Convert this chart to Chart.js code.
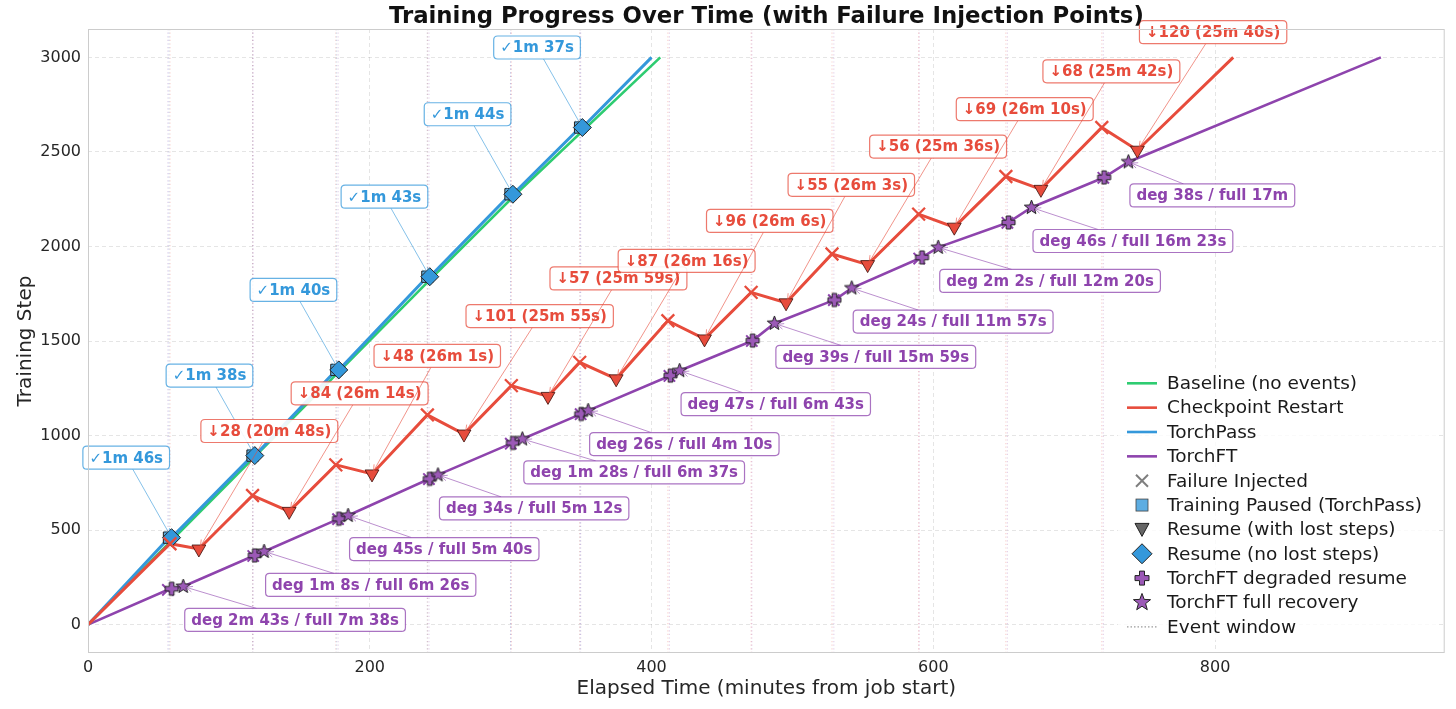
<!DOCTYPE html>
<html><head><meta charset="utf-8">
<script src="https://cdn.jsdelivr.net/npm/chart.js@4.4.1/dist/chart.umd.min.js"></script>
<style>html,body{margin:0;padding:0;background:#fff;}#wrap{width:1456px;height:709px;position:relative;}</style>
</head><body><div id="wrap"><canvas id="c"></canvas></div>
<script>
// ---------------- DATA ----------------
const titleText = 'Training Progress Over Time (with Failure Injection Points)';
const xTitle = 'Elapsed Time (minutes from job start)';
const yTitle = 'Training Step';
const xTicks = [0, 200, 400, 600, 800];
const yTicks = [0, 500, 1000, 1500, 2000, 2500, 3000];

const baselineT = [0, 120, 243.5, 303.6, 406.2];
const baselineS = [0, 900, 1830, 2276, 3000];

const ckptFailT = [58.2, 116.8, 175.9, 240.9, 300.5, 349.0, 411.6, 470.7, 528.1, 589.6, 651.5, 719.6];
const ckptFailS = [428, 683, 845, 1109, 1264, 1387, 1607, 1757, 1960, 2171, 2370, 2629];
const ckptResumeT = [78.7, 142.8, 201.6, 266.9, 326.5, 374.9, 437.6, 495.5, 553.4, 614.9, 676.4, 744.9];
const ckptResumeS = [400, 599, 797, 1008, 1207, 1300, 1511, 1702, 1904, 2102, 2302, 2509];
const ckptEndT = 812.9, ckptEndS = 3000;
const ckptLabels = ['↓28 (20m 48s)', '↓84 (26m 14s)', '↓48 (26m 1s)', '↓101 (25m 55s)', '↓57 (25m 59s)', '↓87 (26m 16s)',
  '↓96 (26m 6s)', '↓55 (26m 3s)', '↓56 (25m 36s)', '↓69 (26m 10s)', '↓68 (25m 42s)', '↓120 (25m 40s)'];

const passPauseT = [57.5, 116.8, 176.3, 240.9, 299.9, 349.3];
const passResumeT = [59.3, 118.4, 178.0, 242.6, 301.6, 350.9];
const passS = [460, 894, 1347, 1840, 2276, 2629];
const passEndT = 400, passEndS = 3000;
const passLabels = ['✓1m 46s', '✓1m 38s', '✓1m 40s', '✓1m 43s', '✓1m 44s', '✓1m 37s'];

const ftFailT = [56.7, 117.3, 177.5, 242.0, 300.1, 349.7, 412.7, 471.2, 529.4, 590.0, 652.6, 720.7];
const ftFailS = [184, 363, 558, 770, 957, 1113, 1315, 1500, 1716, 1936, 2125, 2363];
const ftDegT = [59.4, 118.4, 178.2, 242.6, 301.6, 350.1, 413.5, 471.8, 529.8, 592.0, 653.4, 721.3];
const ftDegS = [190, 366, 560, 771, 961, 1114, 1317, 1502, 1717, 1942, 2127, 2365];
const ftFullT = [67.6, 125.0, 184.6, 248.4, 308.3, 355.0, 419.9, 487.2, 542.1, 603.5, 669.7, 738.5];
const ftFullS = [202, 387, 577, 792, 982, 1132, 1343, 1593, 1780, 1995, 2206, 2447];
const ftEndT = 917.7, ftEndS = 3000;
const ftLabels = ['deg 2m 43s / full 7m 38s', 'deg 1m 8s / full 6m 26s', 'deg 45s / full 5m 40s', 'deg 34s / full 5m 12s',
  'deg 1m 28s / full 6m 37s', 'deg 26s / full 4m 10s', 'deg 47s / full 6m 43s', 'deg 39s / full 15m 59s',
  'deg 24s / full 11m 57s', 'deg 2m 2s / full 12m 20s', 'deg 46s / full 16m 23s', 'deg 38s / full 17m'];

const legendLabels = ['Baseline (no events)', 'Checkpoint Restart', 'TorchPass', 'TorchFT', 'Failure Injected',
  'Training Paused (TorchPass)', 'Resume (with lost steps)', 'Resume (no lost steps)', 'TorchFT degraded resume',
  'TorchFT full recovery', 'Event window'];

// ---------------- STYLE ----------------
const FONT = '"DejaVu Sans", "Liberation Sans", sans-serif';
const C = { base: '#2ecc71', ckpt: '#e74c3c', pass: '#3498db', ft: '#8e44ad', ftFill: '#9b59b6', edge: '#222222' };
function hexA(h, a) { const n = parseInt(h.slice(1), 16); return `rgba(${n >> 16},${(n >> 8) & 255},${n & 255},${a})`; }

function starPath(g, cx, cy, R) {
  const r = R * 0.42; g.beginPath();
  for (let i = 0; i < 10; i++) { const a = -Math.PI / 2 + i * Math.PI / 5, rr = i % 2 ? r : R; g.lineTo(cx + rr * Math.cos(a), cy + rr * Math.sin(a)); }
  g.closePath();
}
function plusPath(g, cx, cy, h, w) {
  g.beginPath();
  g.moveTo(cx - w, cy - h); g.lineTo(cx + w, cy - h); g.lineTo(cx + w, cy - w); g.lineTo(cx + h, cy - w);
  g.lineTo(cx + h, cy + w); g.lineTo(cx + w, cy + w); g.lineTo(cx + w, cy + h); g.lineTo(cx - w, cy + h);
  g.lineTo(cx - w, cy + w); g.lineTo(cx - h, cy + w); g.lineTo(cx - h, cy - w); g.lineTo(cx - w, cy - w); g.closePath();
}
function makeStar(R, fill, stroke) {
  const s = Math.ceil(2 * R + 4), c = document.createElement('canvas'); c.width = c.height = s;
  const g = c.getContext('2d'); starPath(g, s / 2, s / 2, R);
  g.fillStyle = fill; g.fill(); g.lineWidth = 1; g.strokeStyle = stroke; g.stroke(); return c;
}
function makePlus(h, w, fill, stroke) {
  const s = Math.ceil(2 * h + 4), c = document.createElement('canvas'); c.width = c.height = s;
  const g = c.getContext('2d'); plusPath(g, s / 2, s / 2, h, w);
  g.fillStyle = fill; g.fill(); g.lineWidth = 1; g.strokeStyle = stroke; g.stroke(); return c;
}
const starImg = makeStar(7.5, C.ftFill, C.edge);
const plusImg = makePlus(6.5, 2.3, C.ftFill, C.edge);

// ---------------- BUILD SERIES ----------------
const pts = (xs, ys) => xs.map((x, i) => ({ x, y: ys[i] }));
const baselineLine = pts(baselineT, baselineS);
const ckptLine = [{ x: 0, y: 0 }];
ckptFailT.forEach((t, i) => { ckptLine.push({ x: t, y: ckptFailS[i] }, { x: ckptResumeT[i], y: ckptResumeS[i] }); });
ckptLine.push({ x: ckptEndT, y: ckptEndS });
const passLine = [{ x: 0, y: 0 }];
passPauseT.forEach((t, i) => { passLine.push({ x: t, y: passS[i] }, { x: passResumeT[i], y: passS[i] }); });
passLine.push({ x: passEndT, y: passEndS });
const ftLine = [{ x: 0, y: 0 }];
ftFailT.forEach((t, i) => { ftLine.push({ x: t, y: ftFailS[i] }, { x: ftDegT[i], y: ftDegS[i] }, { x: ftFullT[i], y: ftFullS[i] }); });
ftLine.push({ x: ftEndT, y: ftEndS });

const lineDs = (label, data, color, w, order) => ({ label, data, borderColor: color, backgroundColor: color, borderWidth: w, pointRadius: 0, tension: 0, fill: false, order });
const markDs = (label, data, o) => Object.assign({ label, data, showLine: false, order: 0 }, o);

const datasets = [
  markDs('ckptFail', pts(ckptFailT, ckptFailS), { pointStyle: 'crossRot', pointRadius: 9, borderColor: C.ckpt, pointBorderWidth: 2.3, order: 1 }),
  markDs('ckptResume', pts(ckptResumeT, ckptResumeS), { pointStyle: 'triangle', pointRotation: 180, pointRadius: 8, pointBackgroundColor: C.ckpt, pointBorderColor: 'rgba(60,15,10,0.8)', pointBorderWidth: 1, order: 0 }),
  markDs('passPause', pts(passPauseT, passS), { pointStyle: 'rect', pointRadius: 8, pointBackgroundColor: '#5dade2', pointBorderColor: C.edge, pointBorderWidth: 1, order: 2 }),
  markDs('passResume', pts(passResumeT, passS), { pointStyle: 'rectRot', pointRadius: 9, pointBackgroundColor: C.pass, pointBorderColor: C.edge, pointBorderWidth: 1, order: 1 }),
  markDs('ftFail', pts(ftFailT, ftFailS), { pointStyle: 'crossRot', pointRadius: 8, borderColor: C.ft, pointBorderWidth: 2, order: 2 }),
  markDs('ftDeg', pts(ftDegT, ftDegS), { pointStyle: plusImg, pointRadius: 7, order: 1 }),
  markDs('ftFull', pts(ftFullT, ftFullS), { pointStyle: starImg, pointRadius: 7, order: 0 }),
  lineDs('Checkpoint Restart', ckptLine, C.ckpt, 3, 5),
  lineDs('TorchPass', passLine, C.pass, 3, 5),
  lineDs('Baseline (no events)', baselineLine, C.base, 2.6, 6),
  lineDs('TorchFT', ftLine, C.ft, 2.6, 6)
];

// ---------------- DRAWING HELPERS ----------------
function roundRect(ctx, x, y, w, h, r) {
  ctx.beginPath(); ctx.moveTo(x + r, y); ctx.lineTo(x + w - r, y); ctx.quadraticCurveTo(x + w, y, x + w, y + r);
  ctx.lineTo(x + w, y + h - r); ctx.quadraticCurveTo(x + w, y + h, x + w - r, y + h); ctx.lineTo(x + r, y + h);
  ctx.quadraticCurveTo(x, y + h, x, y + h - r); ctx.lineTo(x, y + r); ctx.quadraticCurveTo(x, y, x + r, y); ctx.closePath();
}
function drawLabel(ctx, text, tx, ty, anchor, dx, dy, color) {
  ctx.font = 'bold 15px ' + FONT;
  const tw = ctx.measureText(text).width, w = tw + 13, h = 23;
  const left = anchor === 'right' ? tx + dx - w : tx + dx;
  const cy = ty + dy, top = cy - h / 2, cx = left + w / 2;
  const vx = tx - cx, vy = ty - cy, L = Math.hypot(vx, vy);
  const t0 = Math.min((w / 2) / Math.abs(vx || 1e-6), (h / 2) / Math.abs(vy || 1e-6));
  const sx = cx + vx * t0, sy = cy + vy * t0;
  const ux = vx / L, uy = vy / L, ex = tx - ux * 3, ey = ty - uy * 3;
  ctx.save();
  ctx.strokeStyle = hexA(color, 0.6); ctx.lineWidth = 1;
  ctx.beginPath(); ctx.moveTo(sx, sy); ctx.lineTo(ex, ey); ctx.stroke();
  const ang = Math.atan2(uy, ux), hl = 7, ha = 0.42;
  ctx.beginPath();
  ctx.moveTo(ex - hl * Math.cos(ang - ha), ey - hl * Math.sin(ang - ha)); ctx.lineTo(ex, ey);
  ctx.lineTo(ex - hl * Math.cos(ang + ha), ey - hl * Math.sin(ang + ha)); ctx.stroke();
  roundRect(ctx, left, top, w, h, 4);
  ctx.fillStyle = 'rgba(255,255,255,0.9)'; ctx.fill();
  ctx.strokeStyle = hexA(color, 0.75); ctx.lineWidth = 1.2; ctx.stroke();
  ctx.fillStyle = color; ctx.textAlign = 'left'; ctx.textBaseline = 'middle';
  ctx.fillText(text, left + 6.5, cy + 1);
  ctx.restore();
}

const custom = {
  id: 'custom',
  beforeDatasetsDraw(chart) {
    const { ctx, chartArea: a, scales: { x } } = chart;
    ctx.save();
    ctx.lineWidth = 1.1; ctx.setLineDash([1.2, 2.4]);
    [[passPauseT, C.pass], [ckptFailT, C.ckpt], [ftFailT, C.ft]].forEach(([ts, col]) => {
      ctx.strokeStyle = hexA(col, 0.26);
      ts.forEach(t => { const px = x.getPixelForValue(t); ctx.beginPath(); ctx.moveTo(px, a.top); ctx.lineTo(px, a.bottom); ctx.stroke(); });
    });
    ctx.restore();
  },
  afterDatasetsDraw(chart) {
    const { ctx, scales: { x, y } } = chart;
    passLabels.forEach((t, i) => drawLabel(ctx, t, x.getPixelForValue(passResumeT[i]), y.getPixelForValue(passS[i]), 'right', -2, -80, C.pass));
    ckptLabels.forEach((t, i) => drawLabel(ctx, t, x.getPixelForValue(ckptResumeT[i]), y.getPixelForValue(ckptResumeS[i]), 'left', 2, -118, C.ckpt));
    ftLabels.forEach((t, i) => drawLabel(ctx, t, x.getPixelForValue(ftFullT[i]), y.getPixelForValue(ftFullS[i]), 'left', 1.5, 33.5, C.ft));
  },
  afterDraw(chart) {
    const { ctx, chartArea: a } = chart;
    ctx.save();
    ctx.strokeStyle = '#cccccc'; ctx.lineWidth = 1;
    ctx.strokeRect(a.left + 0.5, a.top + 0.5, a.right - a.left - 1, a.bottom - a.top - 1);
    ctx.fillStyle = '#111'; ctx.font = 'bold 22.8px ' + FONT; ctx.textAlign = 'center'; ctx.textBaseline = 'alphabetic';
    ctx.fillText(titleText, (a.left + a.right) / 2, 23);
    const lx = 1142, y0 = 383.3, dy = 24.35;
    ctx.fillStyle = 'rgba(255,255,255,0.8)';
    ctx.fillRect(1118, 368, 318, 272);
    ctx.font = '18.5px ' + FONT; ctx.textAlign = 'left'; ctx.textBaseline = 'middle';
    legendLabels.forEach((lab, i) => {
      const yy = y0 + i * dy;
      ctx.save();
      if (i < 4) {
        ctx.strokeStyle = [C.base, C.ckpt, C.pass, C.ft][i]; ctx.lineWidth = 2.6;
        ctx.beginPath(); ctx.moveTo(1127, yy); ctx.lineTo(1157, yy); ctx.stroke();
      } else if (i === 4) {
        ctx.strokeStyle = '#7f7f7f'; ctx.lineWidth = 2;
        ctx.beginPath(); ctx.moveTo(lx - 6, yy - 6); ctx.lineTo(lx + 6, yy + 6); ctx.moveTo(lx + 6, yy - 6); ctx.lineTo(lx - 6, yy + 6); ctx.stroke();
      } else if (i === 5) {
        ctx.fillStyle = '#5dade2'; ctx.fillRect(lx - 6, yy - 6, 12, 12);
        ctx.strokeStyle = '#444'; ctx.lineWidth = 0.8; ctx.strokeRect(lx - 6, yy - 6, 12, 12);
      } else if (i === 6) {
        ctx.beginPath(); ctx.moveTo(lx - 7, yy - 6); ctx.lineTo(lx + 7, yy - 6); ctx.lineTo(lx, yy + 7); ctx.closePath();
        ctx.fillStyle = '#666'; ctx.fill(); ctx.strokeStyle = '#222'; ctx.lineWidth = 1; ctx.stroke();
      } else if (i === 7) {
        ctx.beginPath(); ctx.moveTo(lx, yy - 10); ctx.lineTo(lx + 10, yy); ctx.lineTo(lx, yy + 10); ctx.lineTo(lx - 10, yy); ctx.closePath();
        ctx.fillStyle = C.pass; ctx.fill(); ctx.strokeStyle = '#222'; ctx.lineWidth = 1; ctx.stroke();
      } else if (i === 8) {
        plusPath(ctx, lx, yy, 7, 2.5); ctx.fillStyle = C.ftFill; ctx.fill(); ctx.strokeStyle = '#222'; ctx.lineWidth = 1; ctx.stroke();
      } else if (i === 9) {
        starPath(ctx, lx, yy, 9); ctx.fillStyle = C.ftFill; ctx.fill(); ctx.strokeStyle = '#222'; ctx.lineWidth = 1; ctx.stroke();
      } else {
        ctx.strokeStyle = '#9a9a9a'; ctx.lineWidth = 1.2; ctx.setLineDash([1.5, 2]);
        ctx.beginPath(); ctx.moveTo(1127, yy); ctx.lineTo(1157, yy); ctx.stroke();
      }
      ctx.restore();
      ctx.fillStyle = '#1a1a1a'; ctx.fillText(lab, 1167, yy + 1);
    });
    ctx.restore();
  }
};

new Chart(document.getElementById('c'), {
  type: 'line',
  data: { datasets },
  options: {
    responsive: true, maintainAspectRatio: false, animation: false, events: [],
    layout: { padding: { top: 29, right: 10, left: 0, bottom: 0 } },
    plugins: { legend: { display: false }, tooltip: { enabled: false }, title: { display: false } },
    scales: {
      x: {
        type: 'linear', min: 0, max: 963,
        afterBuildTicks: s => { s.ticks = xTicks.map(v => ({ value: v })); },
        afterFit: s => { s.height = 56; },
        grid: { color: 'rgba(0,0,0,0.1)', drawTicks: false, lineWidth: 1 },
        border: { display: false, dash: [4, 3] },
        ticks: { font: { family: FONT, size: 16 }, color: '#262626', padding: 5, maxRotation: 0, callback: v => String(v) },
        title: { display: true, text: xTitle, font: { family: FONT, size: 20 }, color: '#262626', padding: { top: 0, bottom: 8 } }
      },
      y: {
        type: 'linear', min: -150, max: 3150,
        afterBuildTicks: s => { s.ticks = yTicks.map(v => ({ value: v })); },
        afterFit: s => { s.width = 88; },
        grid: { color: 'rgba(0,0,0,0.1)', drawTicks: false, lineWidth: 1 },
        border: { display: false, dash: [4, 3] },
        ticks: { font: { family: FONT, size: 16 }, color: '#262626', padding: 7, callback: v => String(v) },
        title: { display: true, text: yTitle, font: { family: FONT, size: 20 }, color: '#262626', padding: { top: 14, bottom: 0 } }
      }
    }
  },
  plugins: [custom]
});
</script>
</body></html>
